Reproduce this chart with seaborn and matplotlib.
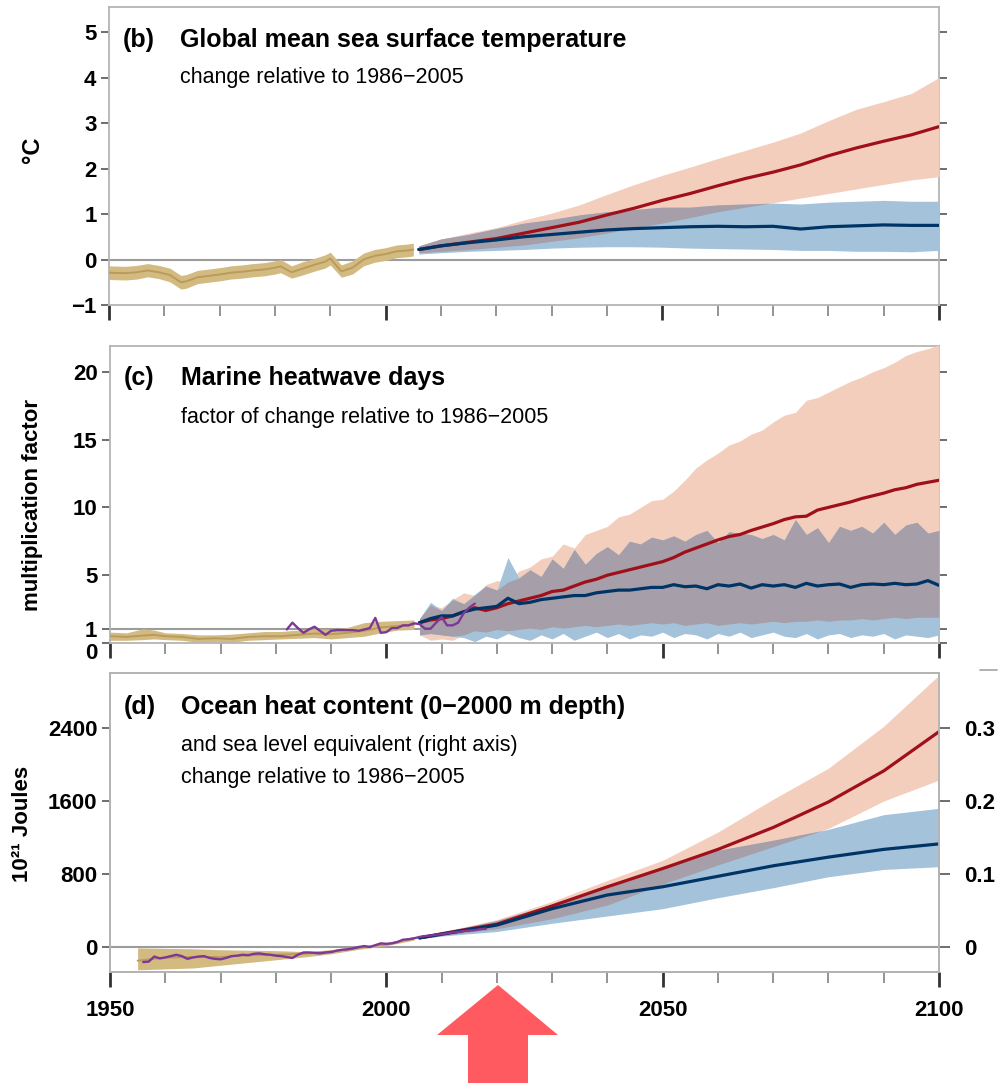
import numpy as np
import matplotlib
matplotlib.use("Agg")
import matplotlib.pyplot as plt
import seaborn as sns
from matplotlib.patches import Polygon
from matplotlib.lines import Line2D

# ---------------------------
# Values

# (b) sea surface temperature, deg C
b_obs_years = [1950, 1953, 1955, 1957, 1959, 1961, 1963, 1964, 1966, 1968, 1970, 1972, 1974, 1976, 1978,
               1980, 1981, 1983, 1985, 1987, 1989, 1990, 1992, 1994, 1996, 1998, 2000, 2002, 2004, 2005]
b_obs_mid = [-0.29, -0.30, -0.28, -0.24, -0.28, -0.34, -0.50, -0.48, -0.39, -0.36, -0.33, -0.29, -0.27, -0.24, -0.22,
             -0.18, -0.15, -0.28, -0.20, -0.12, -0.05, 0.02, -0.26, -0.18, 0.00, 0.08, 0.12, 0.18, 0.20, 0.22]
b_obs_lo = [-0.44, -0.45, -0.43, -0.38, -0.42, -0.49, -0.65, -0.63, -0.53, -0.50, -0.47, -0.43, -0.41, -0.38, -0.36,
            -0.32, -0.29, -0.41, -0.34, -0.26, -0.19, -0.12, -0.39, -0.32, -0.14, -0.06, -0.02, 0.04, 0.06, 0.08]
b_obs_hi = [-0.14, -0.15, -0.13, -0.09, -0.13, -0.19, -0.35, -0.33, -0.24, -0.21, -0.18, -0.14, -0.12, -0.09, -0.07,
            -0.03, 0.00, -0.14, -0.05, 0.02, 0.10, 0.16, -0.12, -0.03, 0.14, 0.22, 0.26, 0.32, 0.34, 0.36]

b_years = [2006] + list(range(2010, 2101, 5))
b_r85_mid = [0.22, 0.30, 0.38, 0.46, 0.58, 0.70, 0.82, 0.98, 1.13, 1.30, 1.45, 1.62, 1.78, 1.92, 2.08, 2.28, 2.45, 2.60, 2.74, 2.92]
b_r85_hi = [0.30, 0.45, 0.58, 0.70, 0.87, 1.02, 1.20, 1.43, 1.65, 1.85, 2.03, 2.22, 2.40, 2.58, 2.78, 3.05, 3.30, 3.47, 3.65, 4.00]
b_r85_lo = [0.15, 0.18, 0.22, 0.27, 0.32, 0.40, 0.48, 0.58, 0.70, 0.80, 0.92, 1.05, 1.15, 1.25, 1.35, 1.45, 1.55, 1.65, 1.75, 1.82]
b_r26_mid = [0.22, 0.30, 0.37, 0.43, 0.50, 0.55, 0.60, 0.65, 0.68, 0.70, 0.72, 0.73, 0.72, 0.73, 0.67, 0.72, 0.74, 0.76, 0.75, 0.75]
b_r26_hi = [0.30, 0.45, 0.55, 0.68, 0.80, 0.88, 0.98, 1.05, 1.10, 1.15, 1.15, 1.20, 1.22, 1.24, 1.22, 1.26, 1.28, 1.30, 1.28, 1.28]
b_r26_lo = [0.12, 0.15, 0.18, 0.20, 0.22, 0.25, 0.27, 0.28, 0.28, 0.27, 0.25, 0.24, 0.23, 0.22, 0.20, 0.20, 0.18, 0.18, 0.17, 0.20]

# (c) marine heatwave days, multiplication factor
c_obs_years = [1950, 1953, 1956, 1958, 1960, 1963, 1966, 1969, 1972, 1975, 1978, 1981, 1984, 1987, 1990,
               1993, 1996, 1999, 2002, 2005]
c_obs_mid = [0.50, 0.45, 0.55, 0.60, 0.50, 0.45, 0.30, 0.35, 0.30, 0.45, 0.50, 0.50, 0.60, 0.70, 0.65,
             0.75, 0.90, 1.15, 1.25, 1.35]
c_obs_hi = [0.80, 0.75, 1.05, 0.95, 0.75, 0.70, 0.60, 0.60, 0.65, 0.75, 0.85, 0.85, 0.95, 1.05, 1.00,
            1.15, 1.50, 1.60, 1.65, 1.70]
c_obs_lo = [0.20, 0.20, 0.25, 0.30, 0.25, 0.20, 0.05, 0.10, 0.05, 0.20, 0.25, 0.30, 0.35, 0.40, 0.30,
            0.40, 0.50, 0.75, 0.95, 1.00]
c_sat_years = list(range(1982, 2017))
c_sat = [1.0, 1.5, 1.1, 0.75, 1.0, 1.2, 0.9, 0.6, 0.9, 0.95, 0.95, 0.95, 0.95, 0.9, 1.0, 1.1, 1.85, 0.75,
         0.8, 1.1, 1.1, 1.3, 1.3, 1.45, 1.4, 1.05, 1.05, 1.5, 1.9, 1.3, 1.3, 1.5, 2.2, 2.6, 2.9]

c_years = list(range(2006, 2101, 2))
c_r85_mid = [1.5, 1.7, 1.8, 2.0, 2.3, 2.6, 2.4, 2.6, 2.9, 3.1, 3.3, 3.5, 3.8, 3.9, 4.2, 4.5, 4.7, 5.0, 5.2, 5.4,
             5.6, 5.8, 6.0, 6.3, 6.7, 7.0, 7.3, 7.6, 7.85, 8.0, 8.3, 8.55, 8.8, 9.1, 9.3, 9.35, 9.8, 10.0, 10.2, 10.4,
             10.65, 10.85, 11.05, 11.3, 11.45, 11.7, 11.85, 12.0]
c_r85_hi = [1.8, 2.8, 2.6, 3.2, 3.7, 3.5, 4.3, 4.6, 4.5, 5.3, 5.6, 6.2, 6.4, 7.3, 7.0, 8.0, 8.3, 8.6, 9.3, 9.5,
            10.0, 10.5, 10.6, 11.2, 12.0, 12.9, 13.5, 14.0, 14.6, 14.9, 15.4, 15.7, 16.3, 16.8, 17.0, 17.9, 18.1, 18.5,
            18.9, 19.3, 19.6, 20.0, 20.3, 20.7, 21.2, 21.5, 21.7, 22.0]
c_r85_lo = [0.6, 0.2, 0.3, 0.2, 0.6, 0.9, 0.8, 1.0, 0.9, 1.0, 1.1, 1.0, 1.2, 1.1, 1.2, 1.3, 1.2, 1.3, 1.4, 1.3,
            1.4, 1.5, 1.4, 1.5, 1.3, 1.4, 1.5, 1.3, 1.4, 1.5, 1.4, 1.5, 1.6, 1.5, 1.6, 1.6, 1.7, 1.6, 1.7, 1.7,
            1.8, 1.7, 1.8, 1.9, 1.8, 1.9, 1.9, 1.9]
c_r26_mid = [1.5, 1.8, 2.0, 2.0, 2.3, 2.5, 2.6, 2.7, 3.3, 2.9, 3.0, 3.2, 3.3, 3.4, 3.5, 3.5, 3.7, 3.8, 3.9, 3.9,
             4.0, 4.1, 4.1, 4.3, 4.15, 4.2, 4.0, 4.3, 4.2, 4.35, 4.05, 4.3, 4.2, 4.3, 4.1, 4.4, 4.2, 4.3, 4.35, 4.1,
             4.3, 4.35, 4.3, 4.4, 4.3, 4.35, 4.6, 4.25]
c_r26_hi = [1.8, 3.0, 2.4, 3.3, 2.9, 3.6, 4.2, 3.9, 6.3, 4.8, 5.4, 4.9, 6.2, 5.5, 6.9, 5.8, 6.6, 7.1, 6.5, 7.5,
            7.3, 7.8, 7.6, 7.9, 7.5, 8.0, 8.3, 7.4, 8.2, 8.1, 8.0, 7.7, 8.0, 7.6, 9.1, 8.0, 8.5, 7.4, 8.6, 8.3,
            8.6, 8.1, 8.9, 8.0, 8.7, 8.9, 8.1, 8.3]
c_r26_lo = [0.6, 0.7, 0.6, 0.5, 0.4, 0.1, 0.5, 0.3, 0.7, 0.4, 0.2, 0.6, 0.3, 0.7, 0.2, 0.5, 0.8, 0.4, 0.7, 0.3,
            0.6, 0.5, 0.8, 0.4, 0.7, 0.6, 0.3, 0.7, 0.5, 0.8, 0.4, 0.6, 0.8, 0.5, 0.4, 0.7, 0.3, 0.6, 0.7, 0.4,
            0.6, 0.5, 0.7, 0.3, 0.6, 0.5, 0.4, 0.6]

# (d) ocean heat content, 10^21 J
d_obs_years = [1955, 1960, 1965, 1970, 1975, 1980, 1985, 1990, 1995, 2000, 2005]
d_obs_mid = [-150, -115, -110, -110, -90, -85, -75, -50, -10, 30, 95]
d_obs_hi = [-10, -15, -20, -30, -35, -40, -50, -30, 0, 45, 115]
d_obs_lo = [-250, -240, -230, -200, -170, -140, -110, -75, -25, 15, 75]
d_arg_years = list(range(1956, 2019))
d_arg = [-165, -160, -105, -125, -115, -100, -85, -100, -130, -115, -105, -100, -120, -130, -135, -120,
         -100, -95, -85, -90, -75, -70, -80, -85, -95, -100, -110, -120, -85, -60, -60, -65, -70, -60,
         -55, -40, -30, -25, -15, 0, 10, 0, 20, 40, 35, 40, 55, 80, 85, 95, 110, 120, 125, 135, 140,
         150, 160, 165, 175, 180, 185, 195, 200]

d_years = [2006] + list(range(2010, 2101, 10))
d_r85_mid = [100, 145, 250, 450, 660, 860, 1070, 1310, 1590, 1930, 2360]
d_r85_hi = [110, 165, 300, 500, 730, 950, 1260, 1620, 1960, 2420, 2980]
d_r85_lo = [90, 125, 200, 310, 460, 690, 900, 1100, 1300, 1600, 1830]
d_r26_mid = [100, 140, 240, 420, 570, 660, 775, 890, 985, 1070, 1130]
d_r26_hi = [110, 160, 290, 470, 650, 860, 1060, 1170, 1290, 1450, 1520]
d_r26_lo = [90, 120, 170, 260, 340, 420, 540, 650, 770, 850, 880]

# colours
TAN_BAND, TAN_LINE = "#d3ba80", "#b99c5c"
PURPLE = "#7d3796"
RED, RED_BAND = "#a0101a", "#f4cebd"
BLUE, BLUE_BAND = "#003466", "#a4c3da"
OVERLAP = "#a69ea8"
FRAME = "#b4b4b4"

TICK_FS = 16
TITLE_FS = 18
SUB_FS = 15.5

# ---------------------------
sns.set_style("ticks")
plt.rcParams['font.family'] = ['Liberation Sans', 'DejaVu Sans']
plt.rcParams['text.color'] = 'black'
plt.rcParams['xtick.labelcolor'] = 'black'
plt.rcParams['ytick.labelcolor'] = 'black'

W, H = 1002, 1083
fig = plt.figure(figsize=(W / 100, H / 100), dpi=100)


def box(left, top, right, bottom):
    return [left / W, 1 - bottom / H, (right - left) / W, (bottom - top) / H]


def draw_obs(ax, years, mid, lo, hi):
    ax.fill_between(years, lo, hi, color=TAN_BAND, lw=0, zorder=2)
    sns.lineplot(x=years, y=mid, ax=ax, color=TAN_LINE, lw=1.4, zorder=3)


def draw_proj(ax, years, r_mid, r_lo, r_hi, b_mid, b_lo, b_hi):
    r_lo, r_hi, b_lo, b_hi = map(np.asarray, (r_lo, r_hi, b_lo, b_hi))
    ax.fill_between(years, r_lo, r_hi, color=RED_BAND, lw=0, zorder=4)
    ax.fill_between(years, b_lo, b_hi, color=BLUE_BAND, lw=0, zorder=5)
    lo = np.maximum(r_lo, b_lo)
    hi = np.minimum(r_hi, b_hi)
    ax.fill_between(years, lo, hi, where=hi > lo, interpolate=True, color=OVERLAP, lw=0, zorder=6)
    sns.lineplot(x=years, y=r_mid, ax=ax, color=RED, lw=2.3, zorder=7)
    sns.lineplot(x=years, y=b_mid, ax=ax, color=BLUE, lw=2.3, zorder=8)


def style(ax, ylim, yticks, ylabels, base, xlabels=False, right_ticks=True):
    ax.set_xlim(1950, 2100)
    ax.set_ylim(*ylim)
    ax.axhline(base, color="#9c9c9c", lw=1.5, zorder=1)
    for s in ax.spines.values():
        s.set_color(FRAME)
        s.set_linewidth(1.3)
    ax.set_xticks([1950, 2000, 2050, 2100])
    ax.set_xticks(range(1950, 2101, 10), minor=True)
    if xlabels:
        ax.set_xticklabels(["1950", "2000", "2050", "2100"], fontsize=TICK_FS, fontweight="bold")
    else:
        ax.set_xticklabels([])
    ax.tick_params(axis="x", which="major", length=11, width=2.0, color="#333333", pad=9)
    ax.tick_params(axis="x", which="minor", length=8, width=1.1, color="#777777")
    ax.set_yticks(yticks)
    ax.set_yticklabels(ylabels, fontsize=TICK_FS, fontweight="bold")
    ax.tick_params(axis="y", length=6, width=1.2, color="#555555", pad=3,
                   right=right_ticks, left=True)
    ax.set_xlabel("")
    ax.set_ylabel("")


def titles(ax, tag, title, subs, ys):
    ax.text(0.016, ys[0], tag, transform=ax.transAxes, fontsize=TITLE_FS, fontweight="bold", va="center")
    ax.text(0.086, ys[0], title, transform=ax.transAxes, fontsize=TITLE_FS, fontweight="bold", va="center")
    for s, y in zip(subs, ys[1:]):
        ax.text(0.086, y, s, transform=ax.transAxes, fontsize=SUB_FS, va="center")


# ---------------------------
# (b) Global mean sea surface temperature
ax_b = fig.add_axes(box(109, 7, 939, 305))
draw_obs(ax_b, b_obs_years, b_obs_mid, b_obs_lo, b_obs_hi)
draw_proj(ax_b, b_years, b_r85_mid, b_r85_lo, b_r85_hi, b_r26_mid, b_r26_lo, b_r26_hi)
style(ax_b, (-1, 5.55), [-1, 0, 1, 2, 3, 4, 5], ["\u22121", "0", "1", "2", "3", "4", "5"], 0)
titles(ax_b, "(b)", "Global mean sea surface temperature",
       ["change relative to 1986\u22122005"], [0.889, 0.762])

# (c) Marine heatwave days
ax_c = fig.add_axes(box(110, 346, 939, 643))
draw_obs(ax_c, c_obs_years, c_obs_mid, c_obs_lo, c_obs_hi)
draw_proj(ax_c, c_years, c_r85_mid, c_r85_lo, c_r85_hi, c_r26_mid, c_r26_lo, c_r26_hi)
sns.lineplot(x=c_sat_years, y=c_sat, ax=ax_c, color=PURPLE, lw=1.7, zorder=9)
style(ax_c, (0, 21.9), [0, 1, 5, 10, 15, 20], ["0", "1", "5", "10", "15", "20"], 1)
ax_c.get_yticklabels()[0].set_verticalalignment("top")
titles(ax_c, "(c)", "Marine heatwave days",
       ["factor of change relative to 1986\u22122005"], [0.892, 0.758])

# (d) Ocean heat content
ax_d = fig.add_axes(box(110, 673, 939, 972))
draw_obs(ax_d, d_obs_years, d_obs_mid, d_obs_lo, d_obs_hi)
draw_proj(ax_d, d_years, d_r85_mid, d_r85_lo, d_r85_hi, d_r26_mid, d_r26_lo, d_r26_hi)
sns.lineplot(x=d_arg_years, y=d_arg, ax=ax_d, color=PURPLE, lw=1.7, zorder=9)
d_ylim = (-274, 3003)
style(ax_d, d_ylim, [0, 800, 1600, 2400], ["0", "800", "1600", "2400"], 0, xlabels=True, right_ticks=False)
titles(ax_d, "(d)", "Ocean heat content (0\u22122000 m depth)",
       ["and sea level equivalent (right axis)", "change relative to 1986\u22122005"], [0.886, 0.759, 0.652])

# right axis: sea level equivalent (m)
ax_r = ax_d.twinx()
ax_r.set_ylim(d_ylim[0] / 8000, d_ylim[1] / 8000)
ax_r.set_yticks([0, 0.1, 0.2, 0.3])
ax_r.set_yticklabels(["0", "0.1", "0.2", "0.3"], fontsize=TICK_FS, fontweight="bold")
ax_r.tick_params(axis="y", length=8, width=1.2, color="#555555", pad=10)
for s in ax_r.spines.values():
    s.set_color(FRAME)
    s.set_linewidth(1.3)

# y-axis titles
fig.text(32 / W, 1 - 150 / H, "\u00b0C", rotation=90, ha="center", va="center", fontsize=17, fontweight="bold")
fig.text(33 / W, 1 - 505 / H, "multiplication factor", rotation=90, ha="center", va="center",
         fontsize=16, fontweight="bold")
fig.text(23 / W, 1 - 824 / H, "10\u00b2\u00b9 Joules", rotation=90, ha="center", va="center",
         fontsize=16, fontweight="bold")

# small stray dash at top right of panel d
fig.add_artist(Line2D([980 / W, 997 / W], [1 - 670 / H] * 2, color="#aaaaaa", lw=1.3))

# red arrow pointing at the present day
arrow_px = [(498, 985), (558, 1035), (528, 1035), (528, 1083), (468, 1083), (468, 1035), (437, 1035)]
fig.add_artist(Polygon([(x / W, 1 - y / H) for x, y in arrow_px], closed=True,
                       transform=fig.transFigure, color="#ff5a5f", lw=0))

fig.savefig("out.png", dpi=100)
